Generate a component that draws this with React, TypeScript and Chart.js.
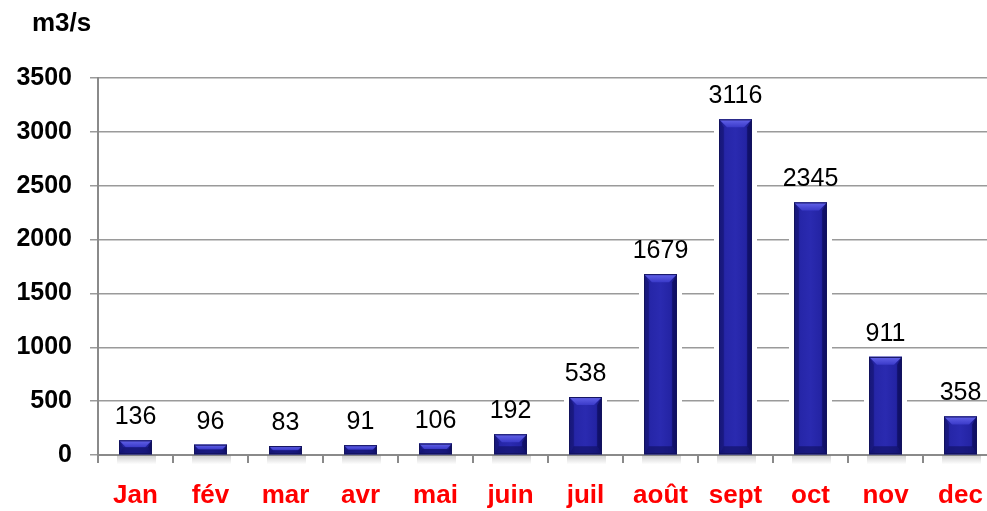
import React, { useEffect, useRef } from "react";
import { Chart, registerables } from "chart.js";

Chart.register(...registerables);

const months = ["Jan", "fév", "mar", "avr", "mai", "juin", "juil", "août", "sept", "oct", "nov", "dec"];
const flows = [136, 96, 83, 91, 106, 192, 538, 1679, 3116, 2345, 911, 358];
const unitLabel = "m3/s";
const yMin = 0;
const yMax = 3500;
const yStep = 500;

const FONT = "'Liberation Sans', Arial, Helvetica, sans-serif";

const haloPlugin = {
  id: "halo",
  beforeDatasetsDraw(chart: any) {
    const ctx = chart.ctx;
    const meta = chart.getDatasetMeta(0);
    ctx.save();
    meta.data.forEach((el: any) => {
      const { x, y, base, width } = el.getProps(["x", "y", "base", "width"], true);
      const L = x - width / 2;
      ctx.fillStyle = "#ffffff";
      ctx.fillRect(L - 5, y - 4, width + 10, base - y + 2);
      const g = ctx.createLinearGradient(0, base, 0, base + 10);
      g.addColorStop(0, "rgba(120,120,120,0.4)");
      g.addColorStop(1, "rgba(120,120,120,0)");
      ctx.fillStyle = g;
      ctx.fillRect(L - 2, base + 1, width + 6, 10);
    });
    ctx.restore();
  },
};

const bevelPlugin = {
  id: "bevel",
  afterDatasetsDraw(chart: any) {
    const ctx = chart.ctx;
    const meta = chart.getDatasetMeta(0);
    ctx.save();
    meta.data.forEach((el: any) => {
      const { x, y, base, width } = el.getProps(["x", "y", "base", "width"], true);
      const L = x - width / 2;
      const R = x + width / 2;
      const T = y;
      const B = base;
      const b = Math.min(8, (B - T) / 2);
      const hg = ctx.createLinearGradient(L, 0, R, 0);
      hg.addColorStop(0, "#1a1a86");
      hg.addColorStop(0.2, "#2626a8");
      hg.addColorStop(0.5, "#2a2ab0");
      hg.addColorStop(0.8, "#2424a4");
      hg.addColorStop(1, "#15157a");
      ctx.fillStyle = hg;
      ctx.fillRect(L, T, R - L, B - T);
      const tg = ctx.createLinearGradient(0, T, 0, T + b);
      tg.addColorStop(0, "#6464ea");
      tg.addColorStop(1, "#3a3ac8");
      ctx.fillStyle = tg;
      ctx.beginPath();
      ctx.moveTo(L, T);
      ctx.lineTo(R, T);
      ctx.lineTo(R - b, T + b);
      ctx.lineTo(L + b, T + b);
      ctx.closePath();
      ctx.fill();
      ctx.fillStyle = "rgba(20,20,110,0.55)";
      ctx.beginPath();
      ctx.moveTo(L, T);
      ctx.lineTo(L + b * 0.6, T + b);
      ctx.lineTo(L + b * 0.6, B - b);
      ctx.lineTo(L, B);
      ctx.closePath();
      ctx.fill();
      ctx.fillStyle = "rgba(10,10,80,0.6)";
      ctx.beginPath();
      ctx.moveTo(R, T);
      ctx.lineTo(R - b * 0.6, T + b);
      ctx.lineTo(R - b * 0.6, B - b);
      ctx.lineTo(R, B);
      ctx.closePath();
      ctx.fill();
      ctx.fillStyle = "rgba(15,15,95,0.6)";
      ctx.beginPath();
      ctx.moveTo(L, B);
      ctx.lineTo(R, B);
      ctx.lineTo(R - b * 0.6, B - b);
      ctx.lineTo(L + b * 0.6, B - b);
      ctx.closePath();
      ctx.fill();
      ctx.strokeStyle = "#12125c";
      ctx.lineWidth = 1;
      ctx.strokeRect(L + 0.5, T + 0.5, R - L - 1, B - T - 1);
    });
    ctx.fillStyle = "#000000";
    ctx.font = `25px ${FONT}`;
    ctx.textAlign = "center";
    ctx.textBaseline = "alphabetic";
    const ds = chart.data.datasets[0].data;
    meta.data.forEach((el: any, i: number) => {
      const { x, y } = el.getProps(["x", "y"], true);
      let tx = x;
      const w = ctx.measureText(String(ds[i])).width;
      if (tx + w / 2 > 986) tx = 986 - w / 2;
      ctx.fillText(String(ds[i]), tx, y - 16);
    });
    ctx.font = `bold 26px ${FONT}`;
    ctx.textAlign = "left";
    ctx.fillText(unitLabel, 32, 31);
    ctx.restore();
  },
};

export default function App() {
  const ref = useRef<HTMLCanvasElement | null>(null);
  useEffect(() => {
    if (!ref.current) return;
    const chart = new Chart(ref.current, {
      type: "bar",
      data: {
        labels: months,
        datasets: [
          {
            data: flows,
            backgroundColor: "#2626a8",
            borderWidth: 0,
            categoryPercentage: 1,
            barPercentage: 0.44,
          },
        ],
      },
      options: {
        animation: false,
        responsive: false,
        devicePixelRatio: 1,
        layout: { padding: { top: 78, right: 2, left: 0, bottom: 0 } },
        plugins: {
          legend: { display: false },
          tooltip: { enabled: false },
          title: { display: false },
        },
        scales: {
          x: {
            afterFit(scale: any) {
              scale.height = 56;
            },
            grid: {
              display: true,
              drawOnChartArea: false,
              drawTicks: true,
              tickLength: 8,
              color: "#8a8a8a",
              lineWidth: 2,
            },
            border: { display: true, color: "#8a8a8a", width: 2 },
            ticks: {
              color: "#ff0000",
              font: { family: FONT, size: 26, weight: "bold" },
              padding: 17,
              maxRotation: 0,
              autoSkip: false,
            },
          },
          y: {
            min: yMin,
            max: yMax,
            afterFit(scale: any) {
              scale.width = 98;
            },
            grid: {
              color: "#9a9a9a",
              lineWidth: 1.5,
              tickLength: 8,
              drawTicks: true,
            },
            border: { display: true, color: "#8a8a8a", width: 2 },
            ticks: {
              stepSize: yStep,
              color: "#000000",
              font: { family: FONT, size: 25, weight: "bold" },
              padding: 18,
              callback: (v: any) => String(v),
            },
          },
        },
      },
      plugins: [haloPlugin, bevelPlugin],
    });
    return () => chart.destroy();
  }, []);
  return (
    <div
      style={{
        position: "fixed",
        left: 0,
        top: 0,
        width: 987,
        height: 511,
        overflow: "hidden",
        background: "#ffffff",
      }}
    >
      <canvas ref={ref} width={1000} height={511} style={{ display: "block" }} />
    </div>
  );
}
